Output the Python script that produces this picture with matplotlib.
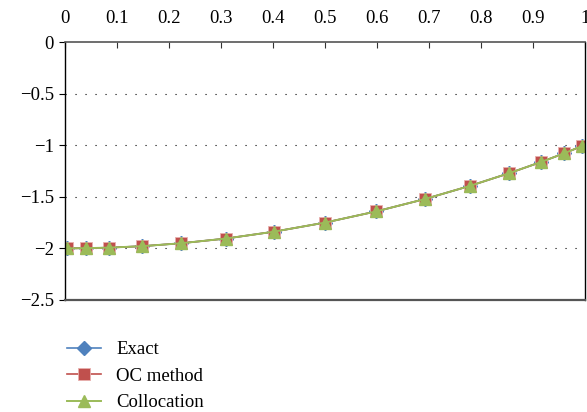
import matplotlib
matplotlib.use("Agg")
import matplotlib.pyplot as plt

# nodes
x_nodes = [0.003, 0.04, 0.085, 0.148, 0.222, 0.309, 0.402, 0.5,
           0.598, 0.691, 0.778, 0.854, 0.915, 0.96, 0.993]
y_exact = [-2.0, -1.998, -1.993, -1.979, -1.951, -1.905, -1.838, -1.75,
           -1.642, -1.523, -1.395, -1.271, -1.163, -1.078, -1.01]
y_oc = [-2.0, -1.998, -1.993, -1.979, -1.951, -1.905, -1.838, -1.75,
        -1.642, -1.523, -1.395, -1.271, -1.163, -1.078, -1.01]
y_coll = [-2.0, -1.998, -1.993, -1.979, -1.951, -1.905, -1.838, -1.75,
          -1.642, -1.523, -1.395, -1.271, -1.163, -1.078, -1.01]

x_ticks = [0, 0.1, 0.2, 0.3, 0.4, 0.5, 0.6, 0.7, 0.8, 0.9, 1]
x_ticklabels = ["0", "0.1", "0.2", "0.3", "0.4", "0.5", "0.6", "0.7", "0.8", "0.9", "1"]
y_ticks = [0, -0.5, -1, -1.5, -2, -2.5]
y_ticklabels = ["0", "\u22120.5", "\u22121", "\u22121.5", "\u22122", "\u22122.5"]

plt.rcParams['font.family'] = ['Liberation Serif', 'DejaVu Serif']

fig = plt.figure(figsize=(5.87, 4.12), dpi=100)
ax = fig.add_axes([0.111, 0.272, 0.886, 0.626])

ax.plot(x_nodes, y_exact, color='#4F81BD', lw=1.2, marker='D', ms=7,
        mfc='#4F81BD', mec='#4F81BD', label='Exact')
ax.plot(x_nodes, y_oc, color='#C0504D', lw=1.2, marker='s', ms=8,
        mfc='#C0504D', mec='#E8B0AE', mew=0.6, label='OC method')
ax.plot(x_nodes, y_coll, color='#9BBB59', lw=1.4, marker='^', ms=9,
        mfc='#9BBB59', mec='#9BBB59', label='Collocation')

ax.set_xlim(0, 1)
ax.set_ylim(-2.5, 0)
ax.set_xticks(x_ticks)
ax.set_xticklabels(x_ticklabels)
ax.set_yticks(y_ticks)
ax.set_yticklabels(y_ticklabels)

ax.xaxis.tick_top()
ax.tick_params(axis='x', direction='in', length=4, width=0.8, labelsize=13.5,
               pad=11, colors='#333333', labelcolor='black')
ax.tick_params(axis='y', direction='out', length=4, width=0.8, labelsize=13.5,
               pad=4)

for yv in [-0.5, -1, -1.5, -2]:
    ax.axhline(yv, color='black', lw=0.8, ls=(0, (1, 8)), zorder=0)

ax.spines['top'].set_color('#555555')
ax.spines['top'].set_linewidth(1.2)
ax.spines['bottom'].set_color('#555555')
ax.spines['bottom'].set_linewidth(1.6)
ax.spines['left'].set_color('black')
ax.spines['left'].set_linewidth(1.0)
ax.spines['right'].set_color('black')
ax.spines['right'].set_linewidth(1.0)

ax.legend(loc='upper left', bbox_to_anchor=(-0.01, -0.13), frameon=False,
          fontsize=13.5, handlelength=1.8, labelspacing=0.5, handletextpad=0.8,
          borderaxespad=0)

fig.savefig("out.png", dpi=100)
